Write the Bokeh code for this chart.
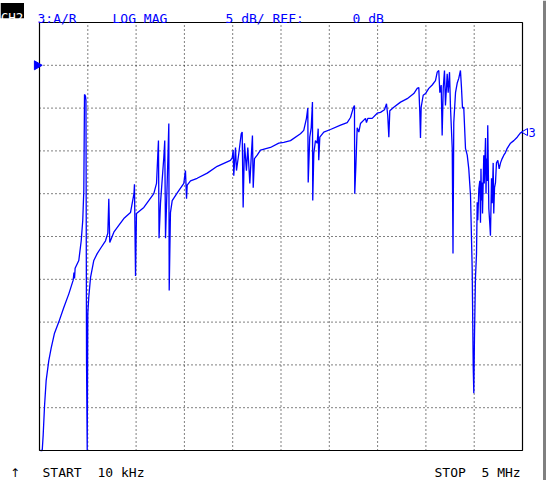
import math
from bokeh.plotting import figure
from bokeh.models import Range1d
from bokeh.core.properties import value
from bokeh.embed import file_html
from bokeh.resources import INLINE

# ---- instrument settings ----
START_KHZ, STOP_KHZ = 10, 5000
REF_DB, DB_PER_DIV = 0, 5
N_DIV = 10
TOP_DB = REF_DB + DB_PER_DIV          # reference line sits one division below the top
BOT_DB = TOP_DB - N_DIV * DB_PER_DIV

header_texts = ["3:A/R", "LOG MAG", "5 dB/", "REF:", "0 dB"]
footer_texts = ["START", "10 kHz", "STOP", "5 MHz"]
channel_text = "CH2"
marker_label = "3"

# ---- trace: frequency (kHz) and magnitude (dB) ----
freq_khz = [
    20, 38, 48, 62, 79, 106, 131, 165, 209, 261,
    313, 358, 366, 372, 378, 416, 441, 457, 468, 475,
    485, 490, 496, 503, 509, 519, 537, 571, 606, 640,
    692, 716, 726, 736, 778, 829, 881, 950, 986, 991,
    1002, 1012, 1088, 1191, 1219, 1232, 1239, 1245, 1260, 1294,
    1304, 1312, 1329, 1340, 1346, 1350, 1363, 1381, 1433, 1501,
    1518, 1529, 1536, 1570, 1639, 1743, 1846, 1983, 2001, 2011,
    2017, 2035, 2045, 2069, 2094, 2104, 2114, 2128, 2148, 2162,
    2183, 2197, 2210, 2218, 2231, 2259, 2293, 2396, 2482, 2534,
    2603, 2706, 2740, 2768, 2782, 2786, 2802, 2817, 2830, 2833,
    2844, 2861, 2879, 2889, 2895, 2906, 2947, 3016, 3120, 3189,
    3223, 3251, 3264, 3267, 3278, 3292, 3309, 3326, 3378, 3388,
    3402, 3447, 3499, 3533, 3574, 3595, 3608, 3619, 3629, 3670,
    3740, 3809, 3877, 3912, 3929, 3939, 3946, 3953, 3974, 3998,
    4032, 4067, 4101, 4119, 4135, 4146, 4160, 4170, 4181, 4194,
    4204, 4222, 4232, 4246, 4256, 4274, 4282, 4290, 4308, 4325,
    4342, 4359, 4370, 4380, 4393, 4411, 4429, 4445, 4463, 4480,
    4491, 4497, 4504, 4514, 4525, 4532, 4538, 4549, 4559, 4566,
    4571, 4576, 4584, 4587, 4600, 4605, 4618, 4623, 4628, 4635,
    4641, 4652, 4662, 4669, 4680, 4687, 4697, 4703, 4711, 4721,
    4731, 4745, 4759, 4773, 4790, 4807, 4824, 4842, 4876, 4910,
    4945, 4979, 5000,
]
mag_db = [
    -45.0, -45.0, -43.2, -39.8, -36.8, -34.5, -33.0, -31.3, -30.0, -28.3,
    -26.7, -25.1, -24.2, -24.9, -23.7, -22.8, -20.5, -18.1, -14.6, -3.4,
    -3.6, -4.1, -34.8, -45.0, -29.0, -27.1, -24.8, -22.8, -22.0, -21.4,
    -20.5, -19.6, -15.6, -20.7, -19.5, -18.7, -17.9, -17.2, -15.0, -13.9,
    -24.6, -17.3, -16.6, -15.0, -13.8, -10.5, -8.8, -20.2, -16.1, -10.8,
    -8.8, -20.2, -13.8, -9.4, -6.8, -26.3, -17.2, -15.8, -14.9, -13.8,
    -12.3, -15.6, -14.0, -13.5, -13.2, -12.6, -11.8, -11.1, -10.8, -9.9,
    -12.9, -9.6, -12.3, -10.3, -8.0, -7.8, -16.6, -9.1, -12.3, -9.6,
    -13.8, -10.8, -8.2, -14.3, -10.9, -10.5, -9.9, -9.6, -9.1, -9.0,
    -8.8, -8.0, -7.6, -6.2, -5.0, -13.7, -8.4, -7.3, -4.3, -15.8,
    -10.3, -8.8, -9.1, -7.4, -11.1, -8.4, -7.8, -7.5, -7.0, -6.7,
    -6.1, -5.0, -4.7, -15.0, -11.9, -7.3, -7.8, -6.8, -6.2, -6.7,
    -6.2, -6.2, -5.6, -5.5, -5.2, -4.5, -5.9, -8.4, -5.3, -4.9,
    -4.3, -3.9, -3.3, -2.7, -2.6, -5.5, -8.5, -4.9, -3.5, -3.3,
    -2.7, -2.3, -1.8, -0.8, -0.6, -3.2, -2.3, -8.2, -2.7, -0.6,
    -4.7, -1.0, -3.2, -0.8, -4.9, -9.7, -22.0, -6.7, -3.2, -2.1,
    -1.5, -0.6, -2.7, -5.0, -4.9, -9.7, -10.5, -12.1, -15.2, -23.7,
    -35.3, -38.3, -31.6, -24.8, -22.0, -16.0, -18.1, -14.4, -13.5, -18.4,
    -12.1, -15.8, -13.7, -17.3, -10.5, -13.8, -8.5, -15.0, -10.9, -13.5,
    -7.0, -16.7, -18.5, -19.9, -13.2, -16.1, -11.4, -17.3, -14.3, -13.7,
    -11.4, -11.1, -12.1, -11.4, -10.9, -10.5, -10.2, -9.7, -9.1, -8.8,
    -8.4, -7.9, -7.8,
]
assert len(freq_khz) == len(mag_db)

# ---- screen layout: graticule box position on the 546 x 480 screen ----
W, H = 546, 480
BOX_L, BOX_R, BOX_T, BOX_B = 39, 522, 22, 450
KHZ_PER_PX = (STOP_KHZ - START_KHZ) / (BOX_R - BOX_L)
DB_PER_PX = (TOP_DB - BOT_DB) / (BOX_B - BOX_T)


def sx(px):
    """screen x (px) -> kHz, for placing decorations around the graticule"""
    return START_KHZ + (px - BOX_L) * KHZ_PER_PX


def sy(py):
    """screen y (px) -> dB"""
    return TOP_DB - (py - BOX_T) * DB_PER_PX


BLUE = "#0000ff"
FONT = "DejaVu Sans Mono"
FS = "13px"

p = figure(width=W, height=H, title=None,
           x_range=Range1d(sx(0), sx(W)), y_range=Range1d(sy(H), sy(0)),
           x_axis_type=None, y_axis_type=None,
           output_backend="svg", toolbar_location=None,
           min_border=0, min_border_left=0, min_border_right=0,
           min_border_top=0, min_border_bottom=0)
p.styles = {"position": "absolute", "left": "0px", "top": "0px"}
p.background_fill_color = "white"
p.border_fill_color = "white"
p.outline_line_color = None

# graticule: dotted division lines
xdiv = [START_KHZ + k * (STOP_KHZ - START_KHZ) / N_DIV for k in range(1, N_DIV)]
ydiv = [BOT_DB + k * DB_PER_DIV for k in range(1, N_DIV)]
p.segment(x0=xdiv, y0=[BOT_DB] * len(xdiv), x1=xdiv, y1=[TOP_DB] * len(xdiv),
          line_color="black", line_dash="1 3", line_width=1)
p.segment(x0=[START_KHZ] * len(ydiv), y0=ydiv, x1=[STOP_KHZ] * len(ydiv), y1=ydiv,
          line_color="black", line_dash="1 3", line_width=1)

# trace
p.line(freq_khz, mag_db, line_color=BLUE, line_width=1.3)

# graticule box
p.quad(left=[START_KHZ], right=[STOP_KHZ], bottom=[BOT_DB], top=[TOP_DB],
       fill_color=None, line_color="black", line_width=1.2)

# screen edge double line on the right
p.segment(x0=[sx(543.5), sx(545.5)], y0=[sy(0)] * 2, x1=[sx(543.5), sx(545.5)], y1=[sy(H)] * 2,
          line_color="black", line_width=1)

# header line
header_px = [37, 112, 225, 272, 352]
p.text(x=[sx(px) for px in header_px], y=[sy(17.5)] * len(header_texts), text=header_texts,
       text_font=value(FONT), text_font_size=value(FS), text_color=BLUE,
       text_align="left", text_baseline="alphabetic")

# channel box
p.quad(left=[sx(0)], right=[sx(23.5)], top=[sy(2.5)], bottom=[sy(17.7)],
       fill_color="black", line_color=None)
p.text(x=[sx(0.3)], y=[sy(16.5)], text=[channel_text], text_font=value(FONT),
       text_font_size=value("12.5px"), text_color="white", text_align="left",
       text_baseline="alphabetic")

# footer
p.text(x=[sx(9.5)], y=[sy(472)], text=["\u2191"], text_font=value("DejaVu Sans"),
       text_font_size=value("12px"), text_color="black", text_align="left",
       text_baseline="alphabetic")
footer_px = [42, 97, 434, 481]
p.text(x=[sx(px) for px in footer_px], y=[sy(472)] * len(footer_texts), text=footer_texts,
       text_font=value(FONT), text_font_size=value(FS), text_color="black",
       text_align="left", text_baseline="alphabetic")

# reference level arrow just left of the graticule
p.scatter(x=[sx(36.5)], y=[REF_DB], marker="triangle", angle=-math.pi / 2, size=9,
          fill_color=BLUE, line_color=BLUE)

# marker 3 at the stop frequency
p.scatter(x=[sx(525)], y=[mag_db[-1]], marker="triangle", angle=math.pi / 2, size=7,
          fill_color=None, line_color=BLUE, line_width=1)
p.text(x=[sx(528)], y=[mag_db[-1]], text=[marker_label], text_font=value(FONT),
       text_font_size=value("12px"), text_color=BLUE, text_align="left",
       text_baseline="middle")

open("out.html", "w").write(file_html(p, INLINE))
